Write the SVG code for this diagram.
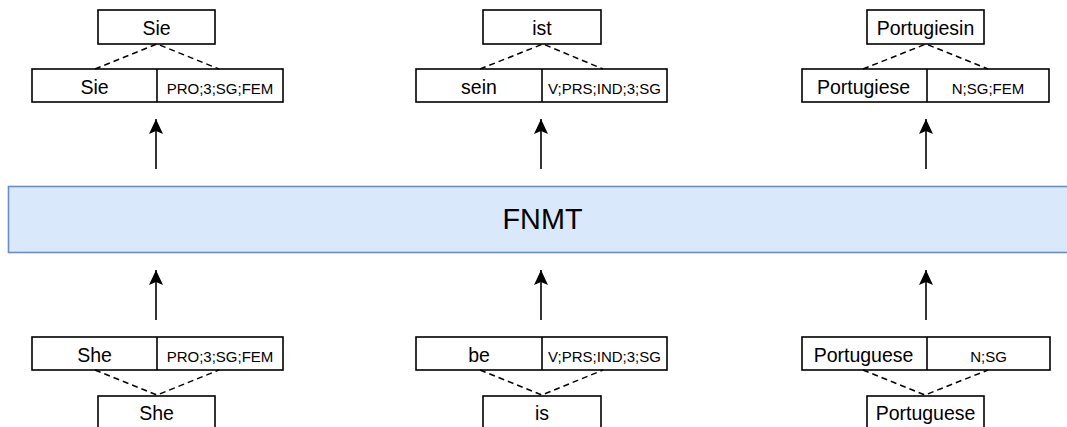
<svg xmlns="http://www.w3.org/2000/svg" width="1067" height="427" viewBox="0 0 1067 427">
  <style>
    .box { fill: #ffffff; stroke: #000000; stroke-width: 1.6; }
    .sep { stroke: #000000; stroke-width: 1.6; }
    .word { font-family: "Liberation Sans", Arial, sans-serif; font-size: 19.5px; fill: #000000; text-anchor: middle; }
    .tag { font-family: "Liberation Sans", Arial, sans-serif; font-size: 15px; fill: #000000; text-anchor: middle; }
    .dash { fill: none; stroke: #000000; stroke-width: 1.5; stroke-dasharray: 6 4; }
    .arrow { fill: none; stroke: #000000; stroke-width: 1.6; marker-end: url(#head); }
    .model { fill: #dae8fc; stroke: #6c8ebf; stroke-width: 1.6; }
    .model-label { font-family: "Liberation Sans", Arial, sans-serif; font-size: 28.8px; fill: #000000; text-anchor: middle; }
  </style>
  <defs>
    <marker id="head" viewBox="0 0 16 16" refX="15" refY="8" markerWidth="16" markerHeight="16" markerUnits="userSpaceOnUse" orient="auto">
      <path d="M0,1 L15,8 L0,15 L3,8 Z" fill="#000000"/>
    </marker>
  </defs>
  <rect width="1067" height="427" fill="#ffffff"/>

  <!-- central model block -->
  <g id="fnmt">
    <rect class="model" x="8.5" y="186.5" width="1070" height="66"/>
    <text class="model-label" x="542.5" y="229">FNMT</text>
  </g>

  <!-- output side (German) -->
  <g id="out-sie">
    <rect class="box" x="98" y="10" width="117" height="34"/>
    <text class="word" x="156.5" y="35">Sie</text>
  </g>
  <g id="out-sie-analysis">
    <rect class="box" x="32" y="69" width="251" height="33"/>
    <line class="sep" x1="157" y1="69" x2="157" y2="102"/>
    <text class="word" x="94.5" y="94">Sie</text>
    <text class="tag" x="220" y="94">PRO;3;SG;FEM</text>
  </g>

  <g id="out-ist">
    <rect class="box" x="483" y="10" width="118" height="34"/>
    <text class="word" x="542" y="35">ist</text>
  </g>
  <g id="out-ist-analysis">
    <rect class="box" x="416" y="69" width="251" height="33"/>
    <line class="sep" x1="542" y1="69" x2="542" y2="102"/>
    <text class="word" x="479" y="94">sein</text>
    <text class="tag" x="604.5" y="94">V;PRS;IND;3;SG</text>
  </g>

  <g id="out-portugiesin">
    <rect class="box" x="867" y="10" width="117" height="34"/>
    <text class="word" x="925.5" y="35">Portugiesin</text>
  </g>
  <g id="out-portugiesin-analysis">
    <rect class="box" x="802" y="69" width="247" height="33"/>
    <line class="sep" x1="927" y1="69" x2="927" y2="102"/>
    <text class="word" x="863.5" y="94">Portugiese</text>
    <text class="tag" x="988" y="94">N;SG;FEM</text>
  </g>

  <!-- input side (English) -->
  <g id="in-she-analysis">
    <rect class="box" x="32" y="337" width="251" height="33"/>
    <line class="sep" x1="157" y1="337" x2="157" y2="370"/>
    <text class="word" x="94.5" y="362">She</text>
    <text class="tag" x="220" y="362">PRO;3;SG;FEM</text>
  </g>
  <g id="in-she">
    <rect class="box" x="98" y="396" width="117" height="40"/>
    <text class="word" x="156.5" y="420">She</text>
  </g>

  <g id="in-be-analysis">
    <rect class="box" x="416" y="337" width="251" height="33"/>
    <line class="sep" x1="542" y1="337" x2="542" y2="370"/>
    <text class="word" x="479" y="362">be</text>
    <text class="tag" x="604.5" y="362">V;PRS;IND;3;SG</text>
  </g>
  <g id="in-is">
    <rect class="box" x="483" y="396" width="118" height="40"/>
    <text class="word" x="542" y="420">is</text>
  </g>

  <g id="in-portuguese-analysis">
    <rect class="box" x="802" y="337" width="248" height="33"/>
    <line class="sep" x1="927" y1="337" x2="927" y2="370"/>
    <text class="word" x="863.5" y="362">Portuguese</text>
    <text class="tag" x="988.5" y="362">N;SG</text>
  </g>
  <g id="in-portuguese">
    <rect class="box" x="867" y="396" width="117" height="40"/>
    <text class="word" x="925.5" y="420">Portuguese</text>
  </g>

  <!-- connectors -->
  <g id="connectors">
    <!-- word-to-analysis links -->
    <polyline class="dash" points="95,69 157,44 219,69"/>
    <polyline class="dash" points="480,69 543,44 603,69"/>
    <polyline class="dash" points="863,69 926,44 988,69"/>
    <polyline class="dash" points="95,370 157,395 219,370"/>
    <polyline class="dash" points="480,370 542,395 603,370"/>
    <polyline class="dash" points="863,370 925,395 988,370"/>
    <!-- model outputs -->
    <line class="arrow" x1="156" y1="169" x2="156" y2="119"/>
    <line class="arrow" x1="541" y1="169" x2="541" y2="119"/>
    <line class="arrow" x1="926" y1="169" x2="926" y2="119"/>
    <!-- model inputs -->
    <line class="arrow" x1="156" y1="320" x2="156" y2="270"/>
    <line class="arrow" x1="541" y1="320" x2="541" y2="270"/>
    <line class="arrow" x1="926" y1="320" x2="926" y2="270"/>
  </g>
</svg>
